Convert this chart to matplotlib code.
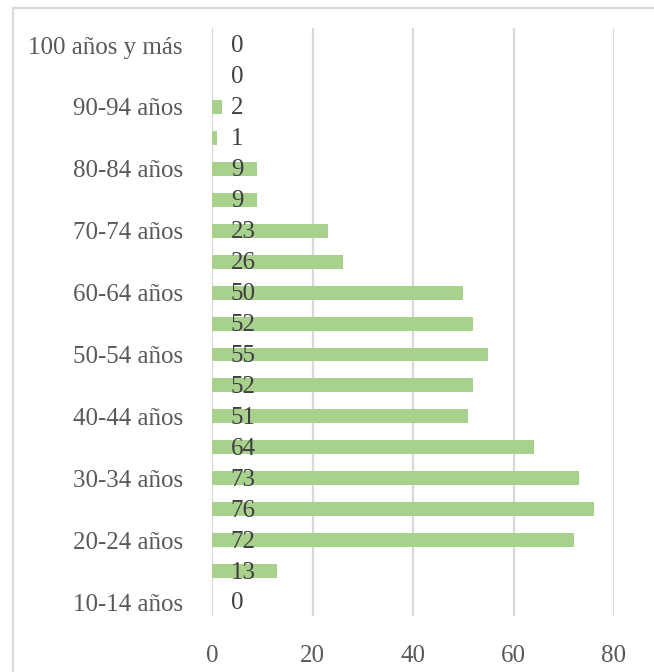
import matplotlib
matplotlib.use("Agg")
import matplotlib.pyplot as plt
from matplotlib.patches import Rectangle

categories = ["10-14 años", "15-19 años", "20-24 años", "25-29 años", "30-34 años",
              "35-39 años", "40-44 años", "45-49 años", "50-54 años", "55-59 años",
              "60-64 años", "65-69 años", "70-74 años", "75-79 años", "80-84 años",
              "85-89 años", "90-94 años", "95-99 años", "100 años y más"]
values = [0, 13, 72, 76, 73, 64, 51, 52, 55, 52, 50, 26, 23, 9, 9, 1, 2, 0, 0]
x_ticks = [0, 20, 40, 60, 80]

plt.rcParams['font.family'] = ['Liberation Serif', 'DejaVu Serif']

fig = plt.figure(figsize=(6.54, 6.72), dpi=100)
ax = fig.add_axes([212/654, 1-616/672, (614-212)/654, (616-28)/672])

pos = list(range(len(categories)))
ax.barh(pos, values, height=0.45, color='#A9D18E', zorder=2)

for p, v in zip(pos, values):
    ax.annotate(str(v), xy=(0, p), xytext=(13.5, -1), textcoords='offset points',
                ha='left', va='center', fontsize=18, color='#404040', zorder=3)

ax.set_xlim(0, 80)
ax.set_ylim(-0.45, 18.55)
ax.set_xticks(x_ticks)
ax.set_xticklabels([str(t) for t in x_ticks])
ax.set_yticks(pos[::2])
ax.set_yticklabels(categories[::2])
ax.tick_params(axis='both', length=0, labelsize=18, labelcolor='#595959')
ax.tick_params(axis='y', pad=21)
ax.tick_params(axis='x', pad=21)
ax.grid(axis='x', color='#D9D9D9', linewidth=1.6, zorder=0)
ax.set_axisbelow(True)
for s in ax.spines.values():
    s.set_visible(False)

fig.patches.append(Rectangle((13/654, -0.1), 1.2, 1 - 8/672 + 0.1, transform=fig.transFigure,
                             fill=False, edgecolor='#D9D9D9', linewidth=1.6))

fig.savefig('out.png', dpi=100)
